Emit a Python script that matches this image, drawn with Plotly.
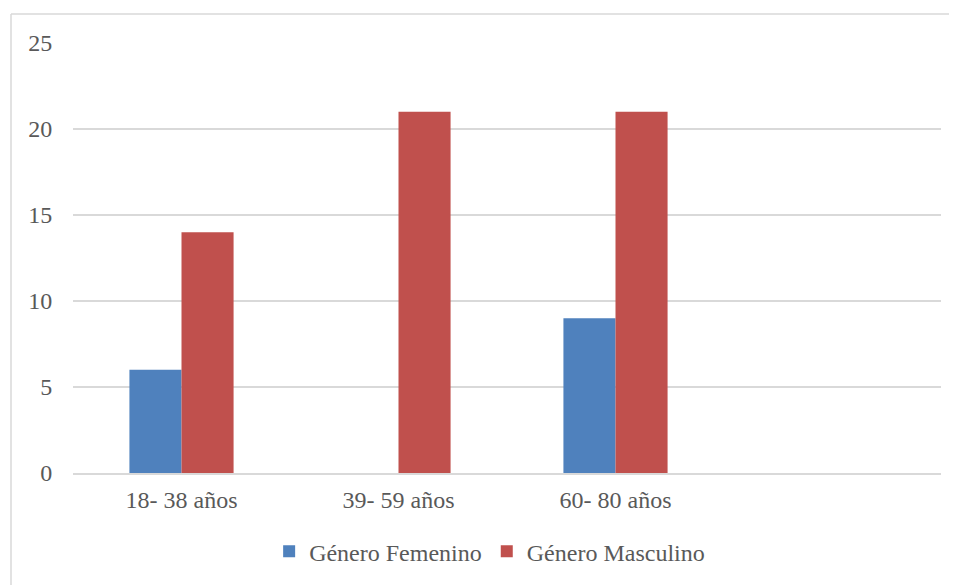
import plotly.graph_objects as go

categories = ["18- 38 años", "39- 59 años", "60- 80 años"]
femenino = [6, None, 9]
masculino = [14, 21, 21]
series_names = ["Género Femenino", "Género Masculino"]
y_ticks = [0, 5, 10, 15, 20, 25]

FONT = "Liberation Serif, 'Times New Roman', serif"
GRAY = "#595959"
BORDER = "#D9D9D9"

W, H = 949, 577
L, R, T, B = 65, 16, 35, 111
PW, PH = W - L - R, H - T - B
bx = (3 - L) / PW
by = 1 + (T - 6) / PH

fig = go.Figure()
fig.add_trace(go.Bar(x=categories, y=femenino, name=series_names[0],
                     marker=dict(color="#4F81BD", line=dict(width=0))))
fig.add_trace(go.Bar(x=categories, y=masculino, name=series_names[1],
                     marker=dict(color="#C0504D", line=dict(width=0))))

fig.update_layout(
    width=W, height=H,
    margin=dict(l=L, r=R, t=T, b=B),
    paper_bgcolor="white", plot_bgcolor="white",
    barmode="group", bargap=0.52, bargroupgap=0,
    font=dict(family=FONT, size=24, color=GRAY),
    showlegend=True,
    legend=dict(orientation="h", x=0.48, xanchor="center", y=-0.18, yanchor="middle",
                font=dict(family=FONT, size=24, color=GRAY),
                itemwidth=30, traceorder="normal"),
    xaxis=dict(range=[-0.5, 3.5], showgrid=False, showline=True,
               linecolor=BORDER, linewidth=1.5, zeroline=False,
               ticks="outside", ticklen=4, tickcolor="rgba(0,0,0,0)",
               tickfont=dict(family=FONT, size=24, color=GRAY)),
    yaxis=dict(range=[0, 25], tickvals=y_ticks, showgrid=True,
               gridcolor=BORDER, gridwidth=1.5, zeroline=False,
               showline=False,
               ticks="outside", ticklen=15, tickcolor="rgba(0,0,0,0)",
               tickfont=dict(family=FONT, size=24, color=GRAY)),
    shapes=[
        dict(type="line", xref="paper", yref="paper", x0=bx, x1=1.1, y0=by, y1=by,
             line=dict(color=BORDER, width=1.5), layer="below"),
        dict(type="line", xref="paper", yref="paper", x0=bx, x1=bx, y0=by, y1=-0.5,
             line=dict(color=BORDER, width=1.5), layer="below"),
    ],
)

fig.write_html("out.html")
